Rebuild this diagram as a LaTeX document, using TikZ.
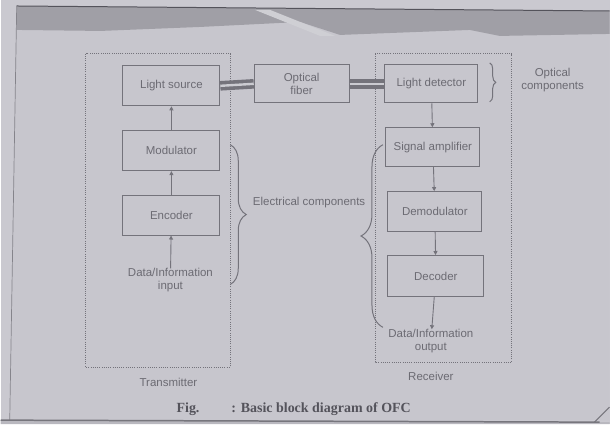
\documentclass[tikz,border=0pt]{standalone}
\usepackage{fontspec}
\setmainfont{Liberation Serif}
\setsansfont{Liberation Sans}
\usetikzlibrary{decorations.pathreplacing,arrows.meta}
\definecolor{paper}{HTML}{C7C6CD}
\definecolor{band}{HTML}{A09FA6}
\definecolor{ink}{HTML}{74737B}
\definecolor{txt}{HTML}{6C6B73}
\definecolor{capink}{HTML}{54535B}
\begin{document}
\begin{tikzpicture}[x=1pt,y=-1pt,
  lbl/.style={font=\sffamily\fontsize{11.5}{13}\selectfont, text=txt, align=center, inner sep=0pt},
  blk/.style={lbl, draw=ink, line width=1pt, minimum width=97pt, minimum height=40pt},
  flow/.style={draw=ink, line width=0.9pt, -{Triangle[length=4pt,width=4pt]}},
  fiberline/.style={draw=ink, line width=3.6pt, double=paper!92!white, double distance=2.4pt},
  frame/.style={draw=ink, line width=0.8pt, dash pattern=on 1pt off 1.2pt},
  brc/.style={draw=ink, line width=1pt, decorate},
  capt/.style={font=\bfseries\fontsize{14}{16}\selectfont, text=capink, inner sep=0pt, anchor=west}]
% page background and the shadowed top edge
\fill[paper!95!white] (0,0) rectangle (610,425);
\fill[paper] (16,6) -- (610,11) -- (610,421) -- (9,421) -- cycle;
\fill[band] (16,6) -- (610,11) -- (610,34) -- (500,36) -- (470,30) -- (340,35)
  -- (300,22) -- (200,27) -- (100,31) -- (16,30) -- cycle;
\fill[paper!85!white] (255,10) -- (270,10) -- (335,36) -- (320,36) -- cycle;
\draw[capink, line width=1pt] (16,6) -- (610,11);
\draw[ink!80!paper, line width=0.7pt] (16,6) -- (9,421);
\fill[paper!88!capink] (0,421) -- (610,423) -- (610,425) -- (0,425) -- cycle;
\draw[capink!70!paper, line width=1.5pt] (0,421) -- (600,423);
\draw[capink!70!paper, line width=1pt] (595,423) -- (610,408);
\useasboundingbox (0,0) rectangle (610,425);

% transmitter
\node[blk] (ls)  at (171,86)    {Light source};
\node[blk] (mod) at (171,151)   {Modulator};
\node[blk] (enc) at (171,215.5) {Encoder};
\node[lbl] (in)  at (170,281)   {Data/Information\\input};

% link
\node[blk, minimum width=95pt, minimum height=38pt] (fib) at (301.5,84) {Optical\\fiber};

% receiver
\node[blk, minimum width=93pt, minimum height=38pt] (det) at (431.5,84) {Light detector};
\node[blk, minimum width=94pt, minimum height=39pt] (amp) at (433,147.5) {Signal amplifier};
\node[blk, minimum width=94pt] (dem) at (435,212) {Demodulator};
\node[blk, minimum width=96pt, minimum height=41pt] (dec) at (436,276.5) {Decoder};
\node[lbl] (out) at (431,342) {Data/Information\\output};

% dotted enclosures
\coordinate (tA) at (85,54);
\coordinate (tB) at (230,368);
\coordinate (rA) at (375,54);
\coordinate (rB) at (512,363);
\draw[frame] (tA) rectangle (tB);
\draw[frame] (rA) rectangle (rB);
\node[lbl] (tx) at (168,383) {Transmitter};
\node[lbl] (rx) at (431,377) {Receiver};

% fibre connections
\draw[fiberline] (ls.east) -- (fib.west);
\draw[fiberline] (fib.east) -- (det.west);

% signal flow
\draw[flow] (in) -- (enc);
\draw[flow] (enc) -- (mod);
\draw[flow] (mod) -- (ls);
\draw[flow] (det) -- (amp);
\draw[flow] (amp) -- (dem);
\draw[flow] (dem) -- (dec);
\draw[flow] (dec) -- (out);

% component groups
\coordinate (b1t) at (230,145);
\coordinate (b1b) at (230,285);
\draw[brc, decoration={brace, amplitude=16pt, aspect=0.5}] (b1t) -- (b1b);
\node[lbl] (elec) at (309,203) {Electrical components};
\coordinate (b2t) at (383,145);
\coordinate (b2b) at (383,328);
\draw[brc, decoration={brace, amplitude=22pt, aspect=0.5}] (b2b) -- (b2t);
\coordinate (b3t) at (490,63);
\coordinate (b3b) at (490,102);
\draw[brc, decoration={brace, amplitude=6pt, aspect=0.5}] (b3t) -- (b3b);
\node[lbl] (opt) at (553,80) {Optical\\components};

% caption
\node[capt] (fig) at (176,410) {Fig.};
\node[capt] (cpt) at (231,410) {: Basic block diagram of OFC};
\end{tikzpicture}
\end{document}
